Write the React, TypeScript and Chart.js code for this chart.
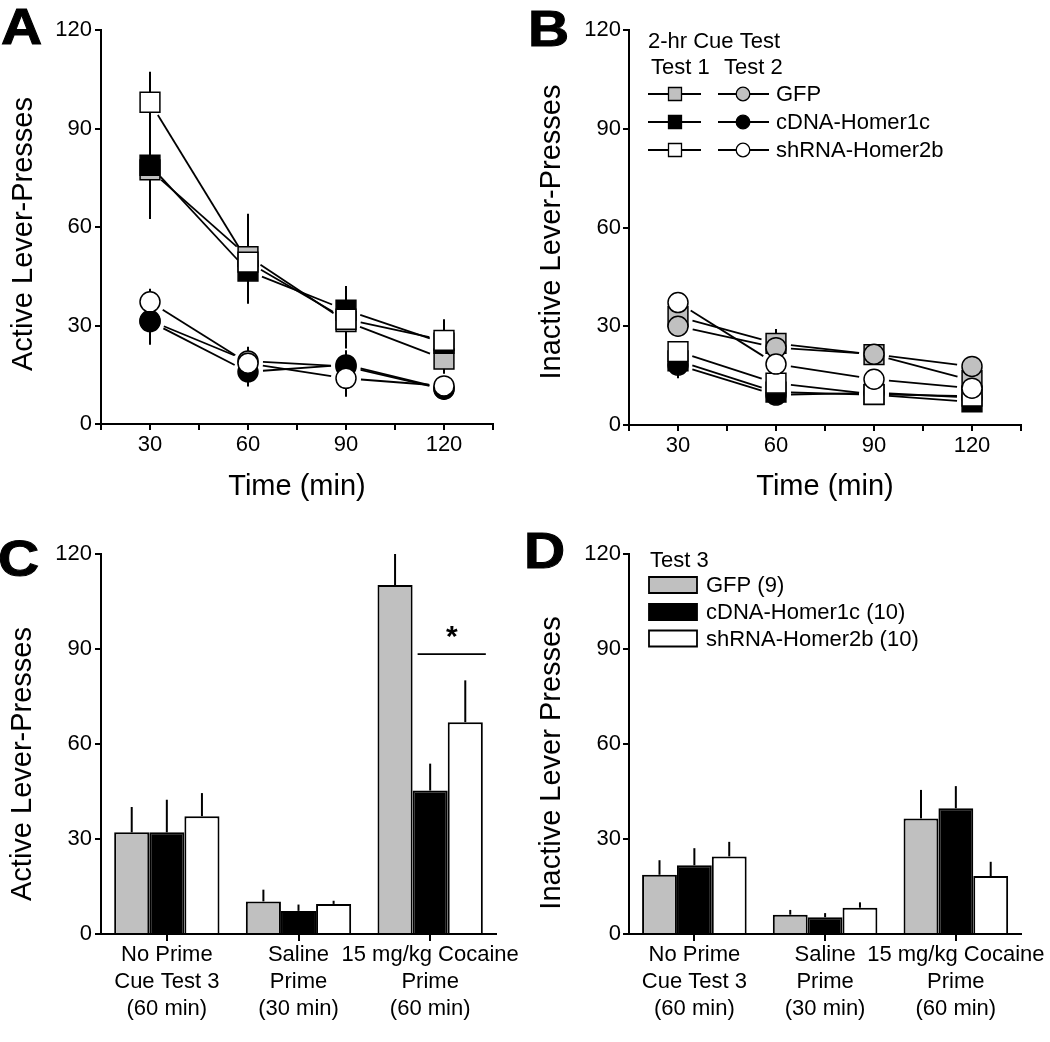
import React, { useEffect, useRef } from 'react';
import { Chart, registerables } from 'chart.js';

Chart.register(...registerables);

const FONT = '"Liberation Sans", Arial, Helvetica, sans-serif';
const GRAY = '#c0c0c0';
const BLACK = '#000000';
const WHITE = '#ffffff';

// ---------- shared categories ----------
const TIME_MIN = [30, 60, 90, 120];
const GROUP_NAMES = ['GFP', 'cDNA-Homer1c', 'shRNA-Homer2b'];
const GROUP_NAMES_N = ['GFP (9)', 'cDNA-Homer1c (10)', 'shRNA-Homer2b (10)'];
const GROUP_FILLS = [GRAY, BLACK, WHITE];
const PRIME_CATEGORIES = [
  ['No Prime', 'Cue Test 3', '(60 min)'],
  ['Saline', 'Prime', '(30 min)'],
  ['15 mg/kg Cocaine', 'Prime', '(60 min)'],
];

// ---------- Panel A: active lever presses, 2-hr cue tests ----------
const A_T1_GFP = [77.4, 51.0, 31.2, 19.8];
const A_T1_GFP_SEM = [15.0, 13.0, 8.2, 4.5];
const A_T1_CDNA = [78.8, 46.6, 34.7, 24.6];
const A_T1_CDNA_SEM = [9.0, 10.0, 7.3, 5.0];
const A_T1_SHRNA = [98.0, 49.3, 31.9, 25.5];
const A_T1_SHRNA_SEM = [9.3, 12.0, 8.0, 6.4];
const A_T2_GFP = [31.5, 19.2, 17.5, 10.6];
const A_T2_GFP_SEM = [5.0, 4.3, 4.0, 3.0];
const A_T2_CDNA = [31.2, 15.9, 18.0, 10.8];
const A_T2_CDNA_SEM = [7.1, 4.5, 4.5, 3.5];
const A_T2_SHRNA = [37.2, 18.5, 13.9, 11.6];
const A_T2_SHRNA_SEM = [4.0, 4.0, 5.6, 2.5];

// ---------- Panel B: inactive lever presses, 2-hr cue tests ----------
const B_T1_GFP = [32.9, 24.8, 21.4, 13.5];
const B_T1_GFP_SEM = [3.0, 4.4, 2.5, 2.0];
const B_T1_CDNA = [19.5, 10.0, 9.2, 7.0];
const B_T1_CDNA_SEM = [2.0, 2.0, 1.5, 1.5];
const B_T1_SHRNA = [22.3, 12.7, 9.3, 8.8];
const B_T1_SHRNA_SEM = [2.5, 2.0, 2.0, 2.0];
const B_T2_GFP = [30.0, 23.5, 21.5, 17.8];
const B_T2_GFP_SEM = [3.0, 3.0, 2.5, 2.0];
const B_T2_CDNA = [18.2, 9.1, 9.8, 8.3];
const B_T2_CDNA_SEM = [4.0, 2.0, 1.5, 1.5];
const B_T2_SHRNA = [37.2, 18.5, 13.9, 11.2];
const B_T2_SHRNA_SEM = [2.0, 2.0, 2.0, 2.0];

// ---------- Panel C: active lever presses, test 3 ----------
const C_GFP = [32.1, 10.3, 110.2];
const C_GFP_SEM = [8.0, 3.7, 9.8];
const C_CDNA = [32.1, 7.3, 45.3];
const C_CDNA_SEM = [10.3, 2.0, 8.5];
const C_SHRNA = [37.2, 9.5, 66.9];
const C_SHRNA_SEM = [7.3, 1.0, 13.2];
const C_SIG_VALUE = 88.4;
const C_SIG_STAR_VALUE = 96.3;

// ---------- Panel D: inactive lever presses, test 3 ----------
const D_GFP = [18.7, 6.1, 36.5];
const D_GFP_SEM = [4.6, 1.5, 9.0];
const D_CDNA = [21.7, 5.3, 39.7];
const D_CDNA_SEM = [5.4, 1.3, 7.0];
const D_SHRNA = [24.5, 8.3, 18.3];
const D_SHRNA_SEM = [4.6, 1.7, 4.5];

// ---------- plugins ----------
function gapLinePlugin(gap: number, width: number) {
  return {
    id: 'gapLines',
    beforeDatasetsDraw(chart: any) {
      const ctx = chart.ctx;
      ctx.save();
      ctx.strokeStyle = BLACK;
      ctx.lineWidth = width;
      chart.data.datasets.forEach((_ds: any, i: number) => {
        const pts = chart.getDatasetMeta(i).data;
        for (let k = 0; k < pts.length - 1; k++) {
          const p = pts[k];
          const q = pts[k + 1];
          const dx = q.x - p.x;
          const dy = q.y - p.y;
          const d = Math.hypot(dx, dy);
          if (d <= 2 * gap) continue;
          const ux = dx / d;
          const uy = dy / d;
          ctx.beginPath();
          ctx.moveTo(p.x + ux * gap, p.y + uy * gap);
          ctx.lineTo(q.x - ux * gap, q.y - uy * gap);
          ctx.stroke();
        }
      });
      ctx.restore();
    },
  };
}

function errorBarPlugin(mode: 'both' | 'up', width: number) {
  const draw = (chart: any) => {
    const ctx = chart.ctx;
    const ys = chart.scales.y;
    ctx.save();
    ctx.strokeStyle = BLACK;
    ctx.lineWidth = width;
    chart.data.datasets.forEach((ds: any, i: number) => {
      const meta = chart.getDatasetMeta(i);
      (ds.errors || []).forEach((e: number, k: number) => {
        const el = meta.data[k];
        if (!el) return;
        const raw = ds.data[k];
        const v = typeof raw === 'number' ? raw : raw.y;
        const top = ys.getPixelForValue(v + e);
        const bot = ys.getPixelForValue(mode === 'both' ? v - e : v);
        ctx.beginPath();
        ctx.moveTo(el.x, top);
        ctx.lineTo(el.x, bot);
        ctx.stroke();
      });
    });
    ctx.restore();
  };
  return {
    id: 'errorBars',
    beforeDatasetsDraw(chart: any) {
      if (mode === 'both') draw(chart);
    },
    afterDatasetsDraw(chart: any) {
      if (mode === 'up') draw(chart);
    },
  };
}

type TextItem = { text: string; x: number | 'center'; y: number; size: number; rotate?: number; bold?: boolean; align?: CanvasTextAlign; baseline?: CanvasTextBaseline };

function textPlugin(items: TextItem[]) {
  return {
    id: 'panelTexts',
    afterDraw(chart: any) {
      const ctx = chart.ctx;
      const ca = chart.chartArea;
      items.forEach((it) => {
        ctx.save();
        ctx.font = `${it.bold ? 'bold ' : ''}${it.size}px ${FONT}`;
        ctx.fillStyle = BLACK;
        ctx.textAlign = it.align || 'center';
        ctx.textBaseline = it.baseline || 'middle';
        const x = it.x === 'center' ? (ca.left + ca.right) / 2 : it.x;
        ctx.translate(x, it.y);
        if (it.rotate) ctx.rotate(it.rotate);
        ctx.fillText(it.text, 0, 0);
        ctx.restore();
      });
    },
  };
}

function lineLegendPlugin() {
  return {
    id: 'lineLegend',
    afterDraw(chart: any) {
      const ctx = chart.ctx;
      ctx.save();
      ctx.fillStyle = BLACK;
      ctx.font = `22px ${FONT}`;
      ctx.textAlign = 'left';
      ctx.textBaseline = 'alphabetic';
      ctx.fillText('2-hr Cue Test', 123, 48);
      ctx.fillText('Test 1', 126, 74);
      ctx.fillText('Test 2', 199, 74);
      const rows = [94, 122, 150];
      GROUP_NAMES.forEach((name, i) => {
        const y = rows[i];
        ctx.strokeStyle = BLACK;
        ctx.lineWidth = 1.8;
        ctx.beginPath();
        ctx.moveTo(123, y);
        ctx.lineTo(176, y);
        ctx.moveTo(193, y);
        ctx.lineTo(244, y);
        ctx.stroke();
        ctx.lineWidth = 1.3;
        ctx.fillStyle = GROUP_FILLS[i];
        ctx.beginPath();
        ctx.rect(150 - 6.5, y - 6.5, 13, 13);
        ctx.fill();
        ctx.stroke();
        ctx.beginPath();
        ctx.arc(218, y, 6.8, 0, Math.PI * 2);
        ctx.fill();
        ctx.stroke();
        ctx.fillStyle = BLACK;
        ctx.textBaseline = 'middle';
        ctx.fillText(name, 251, y + 1);
        ctx.textBaseline = 'alphabetic';
      });
      ctx.restore();
    },
  };
}

function barLegendPlugin() {
  return {
    id: 'barLegend',
    afterDraw(chart: any) {
      const ctx = chart.ctx;
      ctx.save();
      ctx.fillStyle = BLACK;
      ctx.font = `22px ${FONT}`;
      ctx.textAlign = 'left';
      ctx.textBaseline = 'alphabetic';
      ctx.fillText('Test 3', 125, 67);
      const rows = [85, 112, 138.5];
      GROUP_NAMES_N.forEach((name, i) => {
        const y = rows[i];
        ctx.fillStyle = GROUP_FILLS[i];
        ctx.strokeStyle = BLACK;
        ctx.lineWidth = 1.8;
        ctx.beginPath();
        ctx.rect(124, y - 8, 48, 16);
        ctx.fill();
        ctx.stroke();
        ctx.fillStyle = BLACK;
        ctx.textBaseline = 'middle';
        ctx.fillText(name, 181, y + 1);
      });
      ctx.restore();
    },
  };
}

function sigPlugin() {
  return {
    id: 'sig',
    afterDatasetsDraw(chart: any) {
      const ctx = chart.ctx;
      const ys = chart.scales.y;
      const black = chart.getDatasetMeta(1).data[2];
      const white = chart.getDatasetMeta(2).data[2];
      const y = ys.getPixelForValue(C_SIG_VALUE);
      const x1 = black.x - black.width / 2 + 5;
      const x2 = white.x + white.width / 2 + 3;
      ctx.save();
      ctx.strokeStyle = BLACK;
      ctx.lineWidth = 1.8;
      ctx.beginPath();
      ctx.moveTo(x1, y);
      ctx.lineTo(x2, y);
      ctx.stroke();
      ctx.fillStyle = BLACK;
      ctx.font = `bold 30px ${FONT}`;
      ctx.textAlign = 'center';
      ctx.textBaseline = 'alphabetic';
      ctx.fillText('*', (x1 + x2) / 2, ys.getPixelForValue(C_SIG_STAR_VALUE) + 17);
      ctx.restore();
    },
  };
}

// ---------- scale helpers ----------
const axisCommon = (tickLength: number) => ({
  grid: { display: true, drawOnChartArea: false, drawTicks: true, tickLength, tickWidth: 2, tickColor: BLACK, lineWidth: 2, color: BLACK },
  border: { display: true, color: BLACK, width: 2 },
});

function yScale(width: number, pad: number) {
  return {
    min: 0,
    max: 120,
    afterFit: (s: any) => {
      s.width = width;
    },
    ticks: { stepSize: 30, color: BLACK, padding: pad, font: { family: FONT, size: 22 } },
    ...axisCommon(6),
  };
}

function timeScale(height: number) {
  return {
    type: 'linear',
    min: 15,
    max: 135,
    afterFit: (s: any) => {
      s.height = height;
    },
    ticks: {
      stepSize: 15,
      autoSkip: false,
      maxRotation: 0,
      color: BLACK,
      padding: 2,
      font: { family: FONT, size: 22 },
      callback: (v: number) => (TIME_MIN.includes(v) ? String(v) : ''),
    },
    ...axisCommon(6),
  };
}

function primeScale(height: number) {
  return {
    type: 'category',
    offset: true,
    afterFit: (s: any) => {
      s.height = height;
    },
    ticks: { autoSkip: false, maxRotation: 0, color: BLACK, padding: 1, font: { family: FONT, size: 22, lineHeight: 1.22 } },
    ...axisCommon(7),
    grid: { ...axisCommon(7).grid, offset: false },
  };
}

function pointDs(label: string, values: number[], sem: number[], fill: string, style: string, order: number) {
  return {
    label,
    data: values.map((v, i) => ({ x: TIME_MIN[i], y: v })),
    errors: sem,
    pointStyle: style,
    pointRadius: style === 'rect' ? 14 : 10,
    pointHoverRadius: style === 'rect' ? 14 : 10,
    pointBackgroundColor: fill,
    pointBorderColor: BLACK,
    pointBorderWidth: 1.5,
    showLine: false,
    order,
  };
}

function barDs(label: string, values: number[], sem: number[], fill: string) {
  return {
    label,
    data: values,
    errors: sem,
    backgroundColor: fill,
    borderColor: BLACK,
    borderWidth: 2,
    categoryPercentage: 0.8,
    barPercentage: 1.0,
  };
}

const baseOptions = (padding: any) => ({
  responsive: false,
  animation: false,
  events: [],
  layout: { padding },
  plugins: { legend: { display: false }, tooltip: { enabled: false }, title: { display: false } },
});

function buildA() {
  return {
    type: 'scatter',
    data: {
      datasets: [
        pointDs('shRNA-Homer2b Test 2', A_T2_SHRNA, A_T2_SHRNA_SEM, WHITE, 'circle', 0),
        pointDs('shRNA-Homer2b Test 1', A_T1_SHRNA, A_T1_SHRNA_SEM, WHITE, 'rect', 1),
        pointDs('cDNA-Homer1c Test 2', A_T2_CDNA, A_T2_CDNA_SEM, BLACK, 'circle', 2),
        pointDs('GFP Test 2', A_T2_GFP, A_T2_GFP_SEM, GRAY, 'circle', 3),
        pointDs('cDNA-Homer1c Test 1', A_T1_CDNA, A_T1_CDNA_SEM, BLACK, 'rect', 4),
        pointDs('GFP Test 1', A_T1_GFP, A_T1_GFP_SEM, GRAY, 'rect', 5),
      ],
    },
    options: {
      ...baseOptions({ left: 0, top: 30, right: 32, bottom: 0 }),
      scales: { x: timeScale(97), y: yScale(101, 3) },
    },
    plugins: [
      errorBarPlugin('both', 2),
      gapLinePlugin(15, 1.8),
      textPlugin([
        { text: 'Active Lever-Presses', x: 24, y: 234, size: 29, rotate: -Math.PI / 2 },
        { text: 'Time (min)', x: 'center', y: 487, size: 29 },
      ]),
    ],
  };
}

function buildB() {
  return {
    type: 'scatter',
    data: {
      datasets: [
        pointDs('shRNA-Homer2b Test 2', B_T2_SHRNA, B_T2_SHRNA_SEM, WHITE, 'circle', 0),
        pointDs('shRNA-Homer2b Test 1', B_T1_SHRNA, B_T1_SHRNA_SEM, WHITE, 'rect', 1),
        pointDs('cDNA-Homer1c Test 2', B_T2_CDNA, B_T2_CDNA_SEM, BLACK, 'circle', 2),
        pointDs('GFP Test 2', B_T2_GFP, B_T2_GFP_SEM, GRAY, 'circle', 3),
        pointDs('cDNA-Homer1c Test 1', B_T1_CDNA, B_T1_CDNA_SEM, BLACK, 'rect', 4),
        pointDs('GFP Test 1', B_T1_GFP, B_T1_GFP_SEM, GRAY, 'rect', 5),
      ],
    },
    options: {
      ...baseOptions({ left: 0, top: 30, right: 29, bottom: 0 }),
      scales: { x: timeScale(96), y: yScale(104, 2) },
    },
    plugins: [
      errorBarPlugin('both', 2),
      gapLinePlugin(15, 1.8),
      lineLegendPlugin(),
      textPlugin([
        { text: 'Inactive Lever-Presses', x: 27, y: 232, size: 29, rotate: -Math.PI / 2 },
        { text: 'Time (min)', x: 'center', y: 487, size: 29 },
      ]),
    ],
  };
}

function buildC() {
  return {
    type: 'bar',
    data: {
      labels: PRIME_CATEGORIES,
      datasets: [
        barDs(GROUP_NAMES_N[0], C_GFP, C_GFP_SEM, GRAY),
        barDs(GROUP_NAMES_N[1], C_CDNA, C_CDNA_SEM, BLACK),
        barDs(GROUP_NAMES_N[2], C_SHRNA, C_SHRNA_SEM, WHITE),
      ],
    },
    options: {
      ...baseOptions({ left: 0, top: 54, right: 29, bottom: 0 }),
      scales: { x: primeScale(108), y: yScale(101, 3) },
    },
    plugins: [
      errorBarPlugin('up', 2),
      sigPlugin(),
      textPlugin([{ text: 'Active Lever-Presses', x: 23, y: 264, size: 29, rotate: -Math.PI / 2 }]),
    ],
  };
}

function buildD() {
  return {
    type: 'bar',
    data: {
      labels: PRIME_CATEGORIES,
      datasets: [
        barDs(GROUP_NAMES_N[0], D_GFP, D_GFP_SEM, GRAY),
        barDs(GROUP_NAMES_N[1], D_CDNA, D_CDNA_SEM, BLACK),
        barDs(GROUP_NAMES_N[2], D_SHRNA, D_SHRNA_SEM, WHITE),
      ],
    },
    options: {
      ...baseOptions({ left: 0, top: 54, right: 27, bottom: 0 }),
      scales: { x: primeScale(108), y: yScale(104, 2) },
    },
    plugins: [
      errorBarPlugin('up', 2),
      barLegendPlugin(),
      textPlugin([{ text: 'Inactive Lever Presses', x: 27, y: 263, size: 29, rotate: -Math.PI / 2 }]),
    ],
  };
}

function ChartCanvas(props: { left: number; top: number; width: number; height: number; build: () => any }) {
  const ref = useRef<HTMLCanvasElement | null>(null);
  useEffect(() => {
    if (!ref.current) return;
    const chart = new Chart(ref.current, props.build());
    return () => chart.destroy();
  }, []);
  return (
    <canvas
      ref={ref}
      width={props.width}
      height={props.height}
      style={{ position: 'absolute', left: props.left, top: props.top, width: props.width, height: props.height }}
    />
  );
}

const letterStyle = (left: number, top: number): React.CSSProperties => ({
  position: 'absolute',
  left,
  top,
  font: `bold 50px ${FONT}`,
  lineHeight: 1,
  color: BLACK,
  transform: 'scaleX(1.14)',
  transformOrigin: 'left top',
  WebkitTextStroke: '1px #000',
});

export default function App() {
  return (
    <div style={{ position: 'absolute', left: 0, top: 0, width: 1050, height: 1042, background: WHITE, overflow: 'hidden' }}>
      <ChartCanvas left={0} top={0} width={525} height={521} build={buildA} />
      <ChartCanvas left={525} top={0} width={525} height={521} build={buildB} />
      <ChartCanvas left={0} top={500} width={525} height={542} build={buildC} />
      <ChartCanvas left={525} top={500} width={525} height={542} build={buildD} />
      <div style={letterStyle(1, 2)}>A</div>
      <div style={letterStyle(528, 4)}>B</div>
      <div style={letterStyle(-2, 534)}>C</div>
      <div style={letterStyle(524, 526)}>D</div>
    </div>
  );
}
